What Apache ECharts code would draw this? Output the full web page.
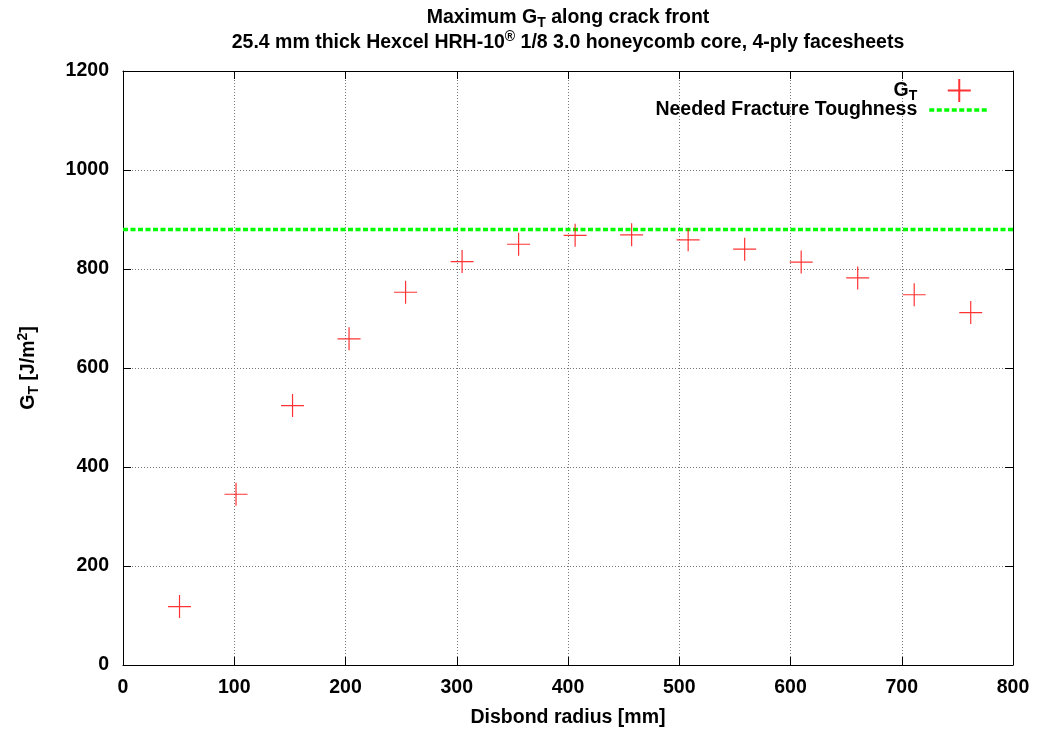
<!DOCTYPE html>
<html>
<head>
<meta charset="utf-8">
<script src="https://cdn.jsdelivr.net/npm/echarts@6/dist/echarts.min.js"></script>
<style>
html,body{margin:0;padding:0;background:#fff;}
#chart{width:1039px;height:734px;}
</style>
</head>
<body>
<div id="chart"></div>
<script>
// Data
const radius = [50.8, 101.6, 152.4, 203.2, 254.0, 304.8, 355.6, 406.4, 457.2, 508.0, 558.8, 609.6, 660.4, 711.2, 762.0];
const gT = [118, 345, 524, 659, 753, 815, 850, 868, 869, 859, 840, 814, 782, 748, 712];
const toughnessX = [0, 800];
const toughnessY = [880, 880];
const xTicks = [0, 100, 200, 300, 400, 500, 600, 700, 800];
const yTicks = [0, 200, 400, 600, 800, 1000, 1200];

const FONT = 'Liberation Sans, Arial, sans-serif';
const FS = 19.5, FSS = 14;
const rich = {
  b: {fontFamily: FONT, fontSize: FS, fontWeight: 'bold', color: '#000', lineHeight: 25, verticalAlign: 'middle'},
  s: {fontFamily: FONT, fontSize: FSS, fontWeight: 'bold', color: '#000', lineHeight: 14, verticalAlign: 'bottom'},
  r: {fontFamily: FONT, fontSize: FSS, fontWeight: 'bold', color: '#000', lineHeight: 14, verticalAlign: 'top'},
  bp: {fontFamily: FONT, fontSize: FS, fontWeight: 'bold', color: '#000', lineHeight: 25, verticalAlign: 'middle', padding: [0, 7, 0, 0]},
  sp: {fontFamily: FONT, fontSize: FSS, fontWeight: 'bold', color: '#000', lineHeight: 14, verticalAlign: 'bottom', padding: [0, 7, 0, 0]}
};

const chart = echarts.init(document.getElementById('chart'), null, {renderer: 'canvas'});
const gridLine = {show: true, lineStyle: {color: '#777', width: 1, type: [1, 2]}};
const labelStyle = {fontFamily: FONT, fontSize: FS, fontWeight: 'bold', color: '#000'};
const tickStyle = {show: true, inside: true, length: 8, lineStyle: {color: '#000', width: 1}};
const plain = v => String(v);

chart.setOption({
  animation: false,
  backgroundColor: '#fff',
  title: {
    text: '{b|Maximum G}{s|T}{b| along crack front}\n{b|25.4 mm thick Hexcel HRH-10}{r|®}{b| 1/8 3.0 honeycomb core, 4-ply facesheets}',
    left: 568,
    top: 5,
    textAlign: 'center',
    padding: 0,
    textStyle: {rich: rich, fontSize: FS, lineHeight: 25}
  },
  legend: {
    orient: 'vertical',
    align: 'right',
    right: 48,
    top: 78,
    itemWidth: 60,
    itemHeight: 23,
    itemGap: -3,
    padding: 0,
    selectedMode: false,
    data: [
      'GT',
      {name: 'Needed Fracture Toughness', itemStyle: {opacity: 0},
       lineStyle: {color: '#00ff00', width: 3.5, type: [5, 2.5]}}
    ],
    formatter: function (name) {
      return name === 'GT' ? '{b|G}{sp|T}' : '{bp|' + name + '}';
    },
    textStyle: {rich: rich}
  },
  grid: {left: 123, right: 26, top: 71, bottom: 69, containLabel: false},
  xAxis: [{
    type: 'value', min: 0, max: 800, interval: 100,
    name: 'Disbond radius [mm]', nameLocation: 'middle', nameGap: 43,
    nameTextStyle: labelStyle,
    axisLine: {show: true, onZero: false, lineStyle: {color: '#000', width: 1}},
    axisTick: tickStyle,
    axisLabel: Object.assign({margin: 13, formatter: plain}, labelStyle),
    splitLine: gridLine
  }, {
    type: 'value', min: 0, max: 800, interval: 100, position: 'top',
    axisLine: {show: true, onZero: false, lineStyle: {color: '#000', width: 1}},
    axisTick: tickStyle, axisLabel: {show: false}, splitLine: {show: false}
  }],
  yAxis: [{
    type: 'value', min: 0, max: 1200, interval: 200,
    name: '{b|G}{s|T}{b| [J/m}{r|2}{b|]}', nameLocation: 'middle', nameGap: 82, nameRotate: 90,
    nameTextStyle: {rich: rich},
    axisLine: {show: true, onZero: false, lineStyle: {color: '#000', width: 1}},
    axisTick: tickStyle,
    axisLabel: Object.assign({margin: 14, formatter: plain}, labelStyle),
    splitLine: gridLine
  }, {
    type: 'value', min: 0, max: 1200, interval: 200, position: 'right',
    axisLine: {show: true, onZero: false, lineStyle: {color: '#000', width: 1}},
    axisTick: tickStyle, axisLabel: {show: false}, splitLine: {show: false}
  }],
  series: [{
    name: 'GT',
    type: 'scatter',
    symbol: 'path://M0,10L20,10M10,0L10,20',
    symbolSize: 23,
    itemStyle: {color: 'rgba(0,0,0,0)', borderColor: '#ff0000', borderWidth: 1.2},
    data: radius.map((x, i) => [x, gT[i]]),
    z: 3
  }, {
    name: 'Needed Fracture Toughness',
    type: 'line',
    symbol: 'none',
    showSymbol: false,
    lineStyle: {color: '#00ff00', width: 3.5, type: [5, 2.5]},
    itemStyle: {color: '#00ff00'},
    data: toughnessX.map((x, i) => [x, toughnessY[i]]),
    z: 2
  }]
});
</script>
</body>
</html>
